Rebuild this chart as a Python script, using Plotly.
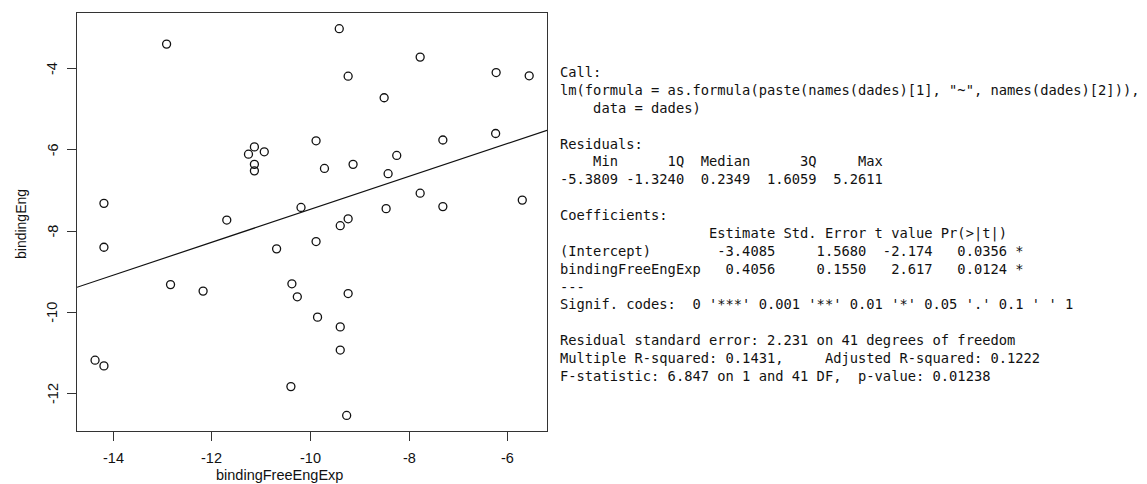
import plotly.graph_objects as go

# Observations: free-energy expectation vs. binding energy
binding_free_eng_exp = [
    -12.92, -11.14, -11.26, -10.94, -11.14, -11.14, -14.19, -11.70, -10.195,
    -14.19, -10.69, -12.84, -12.18, -10.38, -10.27, -14.37, -14.19, -10.40,
    -9.89, -9.24, -9.86, -9.40, -9.40, -9.27, -9.42, -7.78, -9.24, -6.24,
    -5.57, -8.51, -9.89, -7.32, -6.25, -8.255, -9.72, -9.14, -8.43, -7.78,
    -7.32, -5.71, -8.47, -9.24, -9.40,
]
binding_eng = [
    -3.40, -5.93, -6.11, -6.05, -6.36, -6.52, -7.32, -7.73, -7.42,
    -8.40, -8.44, -9.32, -9.48, -9.30, -9.62, -11.18, -11.32, -11.83,
    -8.26, -9.54, -10.12, -10.36, -10.93, -12.54, -3.02, -3.72, -4.19, -4.10,
    -4.18, -4.72, -5.78, -5.76, -5.60, -6.14, -6.46, -6.36, -6.59, -7.07,
    -7.40, -7.24, -7.45, -7.70, -7.87,
]

# Fitted coefficients (lm summary)
intercept = -3.4085
slope = 0.4056

x_ticks = [-14, -12, -10, -8, -6]
y_ticks = [-12, -10, -8, -6, -4]
x_range = [-14.736, -5.209]
y_range = [-12.923, -2.634]

summary_lines = [
    "Call:",
    'lm(formula = as.formula(paste(names(dades)[1], "~", names(dades)[2])),',
    "    data = dades)",
    "",
    "Residuals:",
    "    Min      1Q  Median      3Q     Max",
    "-5.3809 -1.3240  0.2349  1.6059  5.2611",
    "",
    "Coefficients:",
    "                  Estimate Std. Error t value Pr(>|t|)",
    "(Intercept)        -3.4085     1.5680  -2.174   0.0356 *",
    "bindingFreeEngExp   0.4056     0.1550   2.617   0.0124 *",
    "---",
    "Signif. codes:  0 '***' 0.001 '**' 0.01 '*' 0.05 '.' 0.1 ' ' 1",
    "",
    "Residual standard error: 2.231 on 41 degrees of freedom",
    "Multiple R-squared: 0.1431,     Adjusted R-squared: 0.1222",
    "F-statistic: 6.847 on 1 and 41 DF,  p-value: 0.01238",
]

SANS = "Liberation Sans"
INK = "#111"

fig = go.Figure()

fig.add_trace(go.Scatter(
    x=binding_free_eng_exp, y=binding_eng, mode="markers",
    marker=dict(symbol="circle-open", size=8, color=INK,
                line=dict(width=1.3, color=INK)),
    showlegend=False, hoverinfo="skip",
))

# abline(lm) across the whole plotting region
line_x = list(x_range)
line_y = [intercept + slope * v for v in line_x]
fig.add_trace(go.Scatter(
    x=line_x, y=line_y, mode="lines",
    line=dict(color=INK, width=1.2),
    showlegend=False, hoverinfo="skip",
))

L, R, T, B = 77, 600, 13, 53
W, H = 1147, 484
pw = W - L - R
ph = H - T - B

# x tick labels below the axis
for v in x_ticks:
    fig.add_annotation(
        xref="x", yref="paper", x=v, y=0, yshift=-26.5,
        xanchor="center", yanchor="middle", showarrow=False,
        text=str(v), font=dict(family=SANS, size=14.5, color=INK),
    )
# y tick labels, drawn parallel to the axis
for v in y_ticks:
    fig.add_annotation(
        xref="paper", yref="y", x=0, y=v, xshift=-24.5,
        xanchor="center", yanchor="middle", showarrow=False, textangle=-90,
        text=str(v), font=dict(family=SANS, size=14.5, color=INK),
    )

# axis titles
fig.add_annotation(
    xref="paper", yref="paper", x=(279 - L) / pw, y=0, yshift=-44,
    xanchor="center", yanchor="middle", showarrow=False,
    text="bindingFreeEngExp", font=dict(family=SANS, size=14.5, color=INK),
)
fig.add_annotation(
    xref="paper", yref="paper", x=0, y=(H - B - 224) / ph, xshift=-56,
    xanchor="center", yanchor="middle", showarrow=False, textangle=-90,
    text="bindingEng", font=dict(family=SANS, size=14, color=INK),
)

# printed model summary
fig.add_annotation(
    xref="paper", yref="paper",
    x=(559 - L) / pw, y=(H - B - 63) / ph,
    xanchor="left", yanchor="top", align="left",
    showarrow=False, borderpad=0,
    text="<br>".join(s.replace(" ", "\u00a0") for s in summary_lines),
    font=dict(family="DejaVu Sans Mono", size=13.75, color=INK),
)

axis_common = dict(
    showgrid=False, zeroline=False, showticklabels=False,
    showline=True, mirror=True, linecolor="#333", linewidth=1,
    ticks="outside", ticklen=9, tickwidth=1, tickcolor="#333",
)

fig.update_xaxes(range=x_range, tickvals=x_ticks, **axis_common)
fig.update_yaxes(range=y_range, tickvals=y_ticks, **axis_common)

fig.update_layout(
    width=W, height=H,
    margin=dict(l=L, r=R, t=T, b=B, pad=0),
    paper_bgcolor="white", plot_bgcolor="white",
)

fig.write_html("out.html")
